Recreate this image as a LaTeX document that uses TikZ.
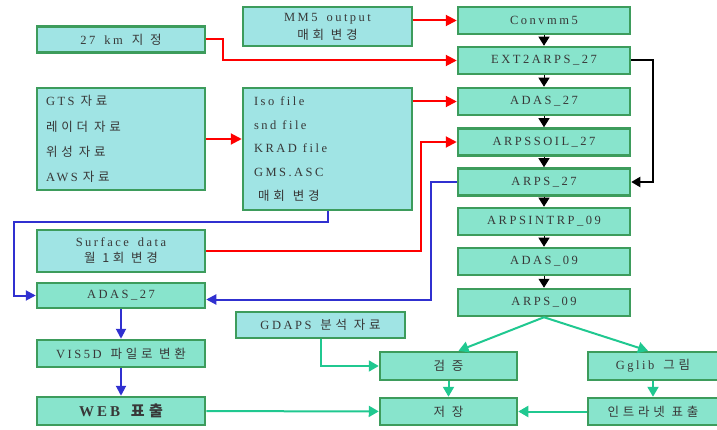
\documentclass[tikz,border=0pt]{standalone}
\usepackage{fontspec}
\setmainfont{Liberation Serif}[LetterSpace=20,WordSpace=1.6]
\newfontfamily\kr{Noto Sans CJK KR}[LetterSpace=30,Scale=1.0]
\usetikzlibrary{arrows.meta}
\definecolor{boxcyan}{HTML}{A0E4E4}
\definecolor{boxmint}{HTML}{88E4CC}
\definecolor{boxline}{HTML}{3D9C5C}
\definecolor{flowteal}{HTML}{20C890}
\definecolor{flowblue}{HTML}{3030D0}
\definecolor{txtgray}{HTML}{383838}
\begin{document}
\begin{tikzpicture}[x=1pt,y=-1pt]
				\tikzstyle{box}=[draw=boxline,line width=2.5pt,text=txtgray,inner sep=0pt,minimum height=26pt,align=center,font=\fontsize{12.5}{16}\selectfont]
				\tikzstyle{cyanbox}=[box,fill=boxcyan]
				\tikzstyle{mintbox}=[box,fill=boxmint]
				\tikzstyle{redflow}=[red,line width=2pt,-{Triangle[width=11pt,length=11pt]}]
				\tikzstyle{blueflow}=[flowblue,line width=2pt,-{Triangle[width=10pt,length=10pt]}]
				\tikzstyle{tealflow}=[flowteal,line width=2pt,-{Triangle[width=11pt,length=10pt]}]
				\tikzstyle{blackflow}=[black,line width=2pt,-{Triangle[width=10pt,length=9pt]}]
				\tikzstyle{downtip}=[black,line width=1pt,-{Triangle[width=11pt,length=9pt]}]
				\useasboundingbox (0,0) rectangle (717,430);
				\draw 
				node[cyanbox,minimum width=168pt](A)at(121,39.5){27 km {\kr 지 정}}
				node[cyanbox,minimum height=102pt,text width=150pt,inner xsep=9pt,align=left,font=\fontsize{12.5}{25.3}\selectfont](B)at(121,139){GTS\hspace{6pt}{\kr 자료}\\{\kr 레이더\hspace{6pt}자료}\\{\kr 위성\hspace{6pt}자료}\\AWS\hspace{5pt}{\kr 자료}}
				node[cyanbox,minimum width=168pt,minimum height=42pt](C)at(121,251){Surface data\\{\kr 월 1회 변경}}
				node[mintbox,minimum width=168pt,minimum height=25pt](D)at(121,295.5){ADAS\_27}
				node[mintbox,minimum width=168pt,minimum height=27pt](E)at(121,353.5){VIS5D {\kr 파일로 변환}}
				node[mintbox,minimum width=168pt,minimum height=28pt,font=\fontsize{15}{17}\bfseries](F)at(121,411){WEB {\kr 표출}}
				node[cyanbox,minimum width=169pt,minimum height=39pt,font=\fontsize{12.5}{18}\selectfont](G)at(327.5,26.5){MM5 output\\{\kr 매회 변경}}
				node[cyanbox,minimum height=122pt,text width=147pt,inner xsep=11pt,align=left,font=\fontsize{12.5}{23.7}\selectfont](H)at(327.5,149){Iso\hspace{6pt}file\\snd\hspace{6pt}file\\KRAD\hspace{6pt}file\\GMS.ASC\\\hspace{4pt}{\kr 매회\hspace{8pt}변경}}
				node[cyanbox,minimum width=169pt](I)at(320.5,325){GDAPS {\kr 분석 자료}}
				node[mintbox,minimum width=172pt,minimum height=27pt](J)at(544,20.5){Convmm5}
				node[mintbox,minimum width=172pt,minimum height=27pt](K)at(544,60.5){EXT2ARPS\_27}
				node[mintbox,minimum width=172pt,minimum height=27pt](L)at(544,101.5){ADAS\_27}
				node[mintbox,minimum width=172pt,minimum height=27pt](M)at(544,142){ARPSSOIL\_27}
				node[mintbox,minimum width=172pt,minimum height=27pt](N)at(544,182){ARPS\_27}
				node[mintbox,minimum width=172pt,minimum height=27pt](O)at(544,221.5){ARPSINTRP\_09}
				node[mintbox,minimum width=172pt,minimum height=27pt](P)at(544,261.5){ADAS\_09}
				node[mintbox,minimum width=172pt,minimum height=27pt](Q)at(544,302.5){ARPS\_09}
				node[mintbox,minimum width=137pt,minimum height=28pt](R)at(448.5,366){{\kr 검 증}}
				node[mintbox,minimum width=137pt,minimum height=27pt](S)at(448.5,411.5){{\kr 저 장}}
				node[mintbox,minimum width=130pt,minimum height=28pt](T)at(653,366){Gglib {\kr 그림}}
				node[mintbox,minimum width=130pt,minimum height=27pt](U)at(653,411.5){{\kr 인트라넷 표출}};
				
				\draw[redflow](G.east|-J.west)--(J.west);
				\draw[redflow](A.east)--++(17,0)|-(K.west);
				\draw[redflow](B.east)--(B.east-|H.west);
				\draw[redflow](H.east|-L.west)--(L.west);
				\draw[redflow](C.east)--++(215,0)|-(M.west);
				\draw[blueflow](H.south)--++(0,11)-|([shift={(-22,0)}]D.west)--(D.west);
				\draw[blueflow](N.west)--++(-26,0)|-([shift={(0,4)}]D.east);
				\draw[blackflow](K.east)--++(22,0)|-(N.east);
				\draw[downtip](J)--(K);
				\draw[downtip](K)--(L);
				\draw[downtip](L)--(M);
				\draw[downtip](M)--(N);
				\draw[downtip](N)--(O);
				\draw[downtip](O)--(P);
				\draw[downtip](P)--(Q);
				\draw[blueflow](D)--(E);
				\draw[blueflow](E)--(F);
				\draw[tealflow](Q.south)--([shift={(10,0)}]R.north);
				\draw[tealflow](Q.south)--([shift={(-5,0)}]T.north);
				\draw[tealflow](I.south)|-(R.west);
				\draw[tealflow](R)--(S);
				\draw[tealflow](T)--(U);
				\draw[tealflow](U)--(S);
				\draw[tealflow](F)--(S);
				\end{tikzpicture}
\end{document}
